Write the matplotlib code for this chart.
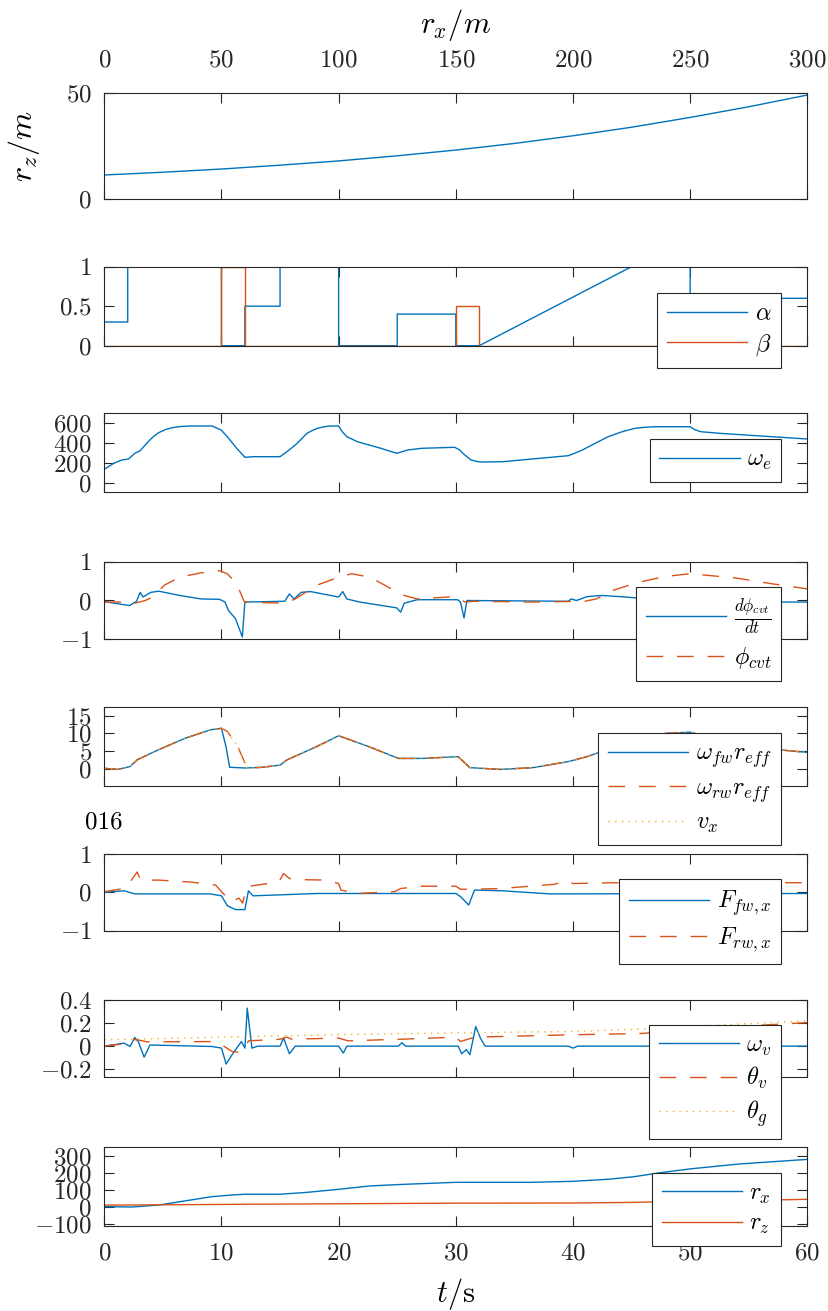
import matplotlib
matplotlib.use("Agg")
import matplotlib.pyplot as plt

# ── Style ─────────────────────────────────────────────────────────────────────
plt.rcParams.update({
    "font.family": "serif",
    "font.serif": ["cmr10", "DejaVu Serif"],
    "mathtext.fontset": "cm",
    "axes.linewidth": 0.8,
    "axes.edgecolor": "#262626",
    "xtick.direction": "in",
    "ytick.direction": "in",
    "xtick.color": "#262626",
    "ytick.color": "#262626",
    "xtick.major.size": 7,
    "ytick.major.size": 7,
    "xtick.major.width": 0.8,
    "ytick.major.width": 0.8,
})

BLUE = "#0072BD"
ORANGE = "#D95319"
YELLOW = "#EDB120"
DASH = (0, (12, 10))
DOT = (0, (1, 3.8))

# ── Data ──────────────────────────────────────────────────────────────────────
# road profile r_z over r_x
PATH_RX = [0, 25, 50, 75, 100, 125, 150, 175, 200, 225, 250, 275, 300]
PATH_RZ = [11.4, 12.7, 14.2, 16.0, 18.0, 20.4, 23.1, 26.2, 29.8, 33.8, 38.4, 43.4, 48.9]

# control inputs alpha / beta
ALPHA_T = [0, 2, 2, 10, 10, 12, 12, 15, 15, 20, 20, 25, 25, 30, 30, 32, 45, 50, 50, 60]
ALPHA = [0.3, 0.3, 1, 1, 0, 0, 0.5, 0.5, 1, 1, 0, 0, 0.4, 0.4, 0, 0, 1, 1, 0.6, 0.6]
BETA_T = [0, 10, 10, 12, 12, 30, 30, 32, 32, 60]
BETA = [0, 0, 1, 1, 0, 0, 0.5, 0.5, 0, 0]

# engine speed
WE_T = [0, 0.8, 1.5, 2.07, 2.6, 3.06, 3.74, 4.2, 4.64, 5.2, 5.78, 6.5, 7.35, 9.2, 9.97,
        10.5, 11.3, 12.0, 12.7, 15.0, 15.7, 16.4, 17.3, 17.8, 18.2, 18.8, 19.3, 20.0,
        20.3, 20.7, 21.6, 23.6, 24.96, 25.9, 27.1, 29.9, 30.3, 30.6, 31.3, 31.8, 32.2,
        34.0, 39.6, 40.2, 40.8, 42.0, 43.0, 44.2, 45.3, 46.2, 47.1, 50.0, 50.4, 50.9,
        52.5, 60]
WE = [134, 194, 227, 237, 294, 320, 410, 462, 500, 530, 550, 562, 567, 567, 527,
      460, 344, 254, 260, 260, 320, 387, 494, 525, 544, 560, 567, 567,
      510, 460, 410, 344, 294, 327, 344, 354, 330, 294, 227, 212, 207,
      210, 270, 297, 327, 400, 460, 510, 544, 555, 560, 560, 530, 510,
      494, 437]

# CVT ratio rate and ratio
DPHI_T = [0, 2.16, 2.75, 3.06, 3.3, 3.97, 4.64, 6.45, 8.25, 9.84, 10.3, 10.6, 11.2,
          11.78, 12.0, 15.4, 15.8, 16.2, 16.8, 17.6, 20.0, 20.35, 20.7, 21.8, 24.96,
          25.3, 25.6, 26.7, 30.15, 30.4, 30.7, 30.95, 39.6, 39.85, 40.3, 41.2, 42.5,
          44.5, 47, 50, 55, 60]
DPHI = [-0.03, -0.13, -0.02, 0.21, 0.09, 0.21, 0.24, 0.13, 0.04, 0.03, -0.04, -0.26, -0.47,
        -0.94, -0.04, -0.02, 0.17, 0.04, 0.21, 0.23, 0.09, 0.23, 0.04, -0.04, -0.19,
        -0.30, -0.07, 0.02, 0.02, -0.04, -0.45, 0.0, -0.02, 0.04, 0.0, 0.1, 0.13,
        0.09, 0.02, -0.02, -0.04, -0.04]
PHI_T = [0, 1.9, 2.6, 3.5, 4.2, 5.1, 6.4, 8.2, 9.8, 10.5, 11.3, 11.9, 12.0, 15.4,
         16.3, 18.1, 20.0, 21.1, 22.7, 24.5, 25.6, 26.7, 29.9, 30.8, 31.5, 36.5,
         41.0, 42.0, 43.4, 45.6, 47.9, 50.0, 53.9, 57.0, 60]
PHI = [-0.04, -0.04, -0.07, 0.0, 0.1, 0.39, 0.6, 0.71, 0.77, 0.69, 0.43, 0.0, -0.04, -0.07,
       0.04, 0.39, 0.6, 0.69, 0.6, 0.3, 0.13, 0.04, 0.1, -0.04, -0.02, -0.04,
       -0.02, 0.04, 0.26, 0.47, 0.62, 0.69, 0.58, 0.43, 0.3]

# wheel speeds and vehicle speed
WF_T = [0, 1.15, 2.2, 2.8, 4.6, 6.9, 9.1, 10.0, 10.4, 10.7, 12.0, 13.5, 15.0, 15.6,
        18.1, 20.0, 22.6, 25.1, 27.1, 30.2, 31.2, 33.8, 36.6, 39.6, 41.2, 43.0,
        45.5, 48.0, 50.0, 52.0, 55.0, 57.7, 60]
WF = [0.1, -0.2, 0.6, 2.5, 5.3, 8.6, 11.0, 11.4, 6.0, 0.4, 0.2, 0.4, 1.0, 2.5,
      6.2, 9.3, 6.2, 2.9, 2.9, 3.4, 0.3, -0.2, 0.3, 2.0, 3.4, 5.5,
      8.5, 10.0, 10.3, 8.5, 7.0, 5.3, 4.6]
WR_T = [0, 1.15, 2.2, 2.8, 4.6, 6.9, 9.1, 10.0, 10.5, 11.4, 12.2, 13.5, 15.0, 15.6,
        18.1, 20.0, 22.6, 25.1, 27.1, 30.2, 31.2, 33.8, 36.6, 39.6, 41.2, 43.0,
        45.5, 48.0, 50.0, 52.0, 55.0, 57.7, 60]
WR = [0.1, -0.2, 0.6, 2.5, 5.3, 8.6, 11.0, 11.4, 10.5, 6.2, 0.1, 0.4, 1.0, 2.5,
      6.2, 9.3, 6.2, 2.9, 2.9, 3.4, 0.3, -0.2, 0.3, 2.0, 3.4, 5.5,
      8.5, 10.0, 10.3, 8.5, 7.0, 5.3, 4.6]
VX_T = WR_T
VX = WR

# longitudinal wheel forces
FF_T = [0, 1.7, 2.6, 9.0, 10.0, 10.5, 11.2, 12.0, 12.3, 12.7, 14.6, 18.1, 30.0, 30.4,
        31.1, 31.6, 34.0, 38.0, 60]
FF = [0.0, 0.04, -0.04, -0.04, -0.09, -0.35, -0.45, -0.45, 0.04, -0.09, -0.07, -0.03,
      -0.03, -0.11, -0.33, 0.06, 0.04, -0.04, -0.03]
FR_T = [0, 1.7, 2.2, 2.8, 3.1, 4.6, 7.3, 9.5, 10.0, 10.8, 11.5, 11.8, 12.2, 13.5,
        14.9, 15.3, 15.8, 17.1, 18.9, 20.0, 20.2, 21.6, 24.8, 25.3, 27.0, 30.0,
        30.4, 31.2, 33.9, 38.4, 39.6, 40.0, 43.4, 50, 60]
FR = [0.02, 0.1, 0.27, 0.53, 0.32, 0.32, 0.27, 0.19, 0.02, -0.24, -0.15, -0.28, 0.15, 0.21,
      0.27, 0.49, 0.36, 0.33, 0.32, 0.23, 0.06, -0.03, 0.02, 0.1, 0.16, 0.16,
      0.08, 0.08, 0.1, 0.21, 0.3, 0.23, 0.25, 0.26, 0.25]

# pitch rate, pitch angle, road grade
WV_T = [0, 1.7, 2.2, 2.6, 2.9, 3.4, 3.9, 9.2, 10.0, 10.4, 10.9, 11.7, 12.0, 12.2,
        12.6, 13.1, 15.0, 15.3, 15.8, 16.3, 20.0, 20.4, 20.7, 25.1, 25.4, 25.7,
        30.2, 30.5, 30.9, 31.2, 31.7, 32.1, 32.5, 39.6, 40.0, 40.4, 60]
WV = [0.0, 0.026, -0.003, 0.075, 0.04, -0.095, 0.01, -0.003, -0.017, -0.155, -0.075, 0.04, -0.017, 0.33,
      -0.017, 0.0, 0.0, 0.07, -0.066, 0.0, 0.0, -0.06, 0.0, 0.0, 0.03, 0.0,
      0.0, -0.066, -0.03, -0.075, 0.17, 0.07, 0.0, 0.0, -0.017, 0.0, 0.0]
TV_T = [0, 1.7, 2.2, 2.8, 3.7, 9.5, 10.2, 10.9, 11.6, 12.0, 12.3, 15.0, 15.6, 16.0,
        20.0, 20.8, 25.3, 30.0, 30.4, 31.6, 39.7, 45.9, 50, 54.0, 60]
TV = [0.0, 0.02, 0.06, 0.055, 0.037, 0.04, 0.0, -0.046, -0.055, -0.02, 0.046, 0.06, 0.078, 0.06,
      0.07, 0.046, 0.06, 0.078, 0.04, 0.078, 0.098, 0.11, 0.14, 0.17, 0.204]
TG_T = [0, 10, 20, 30, 40, 45, 50, 55, 60]
TG = [0.055, 0.078, 0.10, 0.115, 0.127, 0.145, 0.17, 0.195, 0.22]

# position
RX_T = [0, 2.4, 4.7, 7.0, 9.2, 11.0, 12.0, 15.0, 17.3, 20.0, 22.7, 25.5, 30.0, 36.5,
        40.0, 43.0, 45.2, 47.5, 50.0, 54.2, 60]
RX = [2, 0, 12, 37, 61, 71, 75, 75, 86, 104, 124, 133, 145, 145,
      151, 163, 178, 202, 224, 253, 280]
RZ_T = [0, 10, 12, 20, 30, 40, 45, 50, 55, 60]
RZ = [11, 15, 16, 19, 22.5, 23.5, 27, 34, 39, 45]

T_TICKS = [0, 10, 20, 30, 40, 50, 60]
RX_TICKS = [0, 50, 100, 150, 200, 250, 300]

# ── Layout (pixel boxes of the stacked panels) ────────────────────────────────
W, H = 829, 1311
X0, X1 = 104.3, 807.3
PANELS = [(92.7, 199.3), (266.7, 345.7), (413.3, 491.7), (561.7, 639.3),
          (706.7, 785.7), (854.0, 930.7), (1000.0, 1077.3), (1147.3, 1225.7)]
LEGEND_TOPS = [None, 293.3, 439.3, 587.0, 733.3, 879.0, 1025.0, 1172.7]
LEGEND_RIGHT = 781.0

YTICK_FS = 18
XTICK_FS = 18
LEGEND_FS = 17.5


def add_axes(fig, top, bottom):
    return fig.add_axes([X0 / W, 1 - bottom / H, (X1 - X0) / W, (bottom - top) / H])


def style_axes(ax, yticks, ylabels, ylim):
    ax.set_xlim(0, 60)
    ax.set_ylim(*ylim)
    ax.set_xticks(T_TICKS)
    ax.set_yticks(yticks)
    ax.set_yticklabels(ylabels, fontsize=YTICK_FS)
    ax.tick_params(axis="both", top=True, right=True, labelbottom=False)
    ax.tick_params(axis="y", pad=9)


def add_legend(ax, fig, idx):
    leg = ax.legend(
        loc="upper right",
        bbox_to_anchor=(LEGEND_RIGHT / W, 1 - LEGEND_TOPS[idx] / H),
        bbox_transform=fig.transFigure,
        borderaxespad=0,
        fontsize=LEGEND_FS,
        handlelength=3.3,
        handletextpad=0.3,
        labelspacing=0.3,
        borderpad=0.4,
        fancybox=False,
        framealpha=1,
        edgecolor="#262626",
    )
    leg.get_frame().set_linewidth(0.8)
    return leg


def make_figure():
    fig = plt.figure(figsize=(W / 100, H / 100), dpi=100, facecolor="white")
    axes = [add_axes(fig, t, b) for t, b in PANELS]

    # 1: road profile on the r_x axis
    ax = axes[0]
    ax.plot(PATH_RX, PATH_RZ, color=BLUE, lw=1.0)
    ax.set_xlim(0, 300)
    ax.set_ylim(0, 50)
    ax.set_xticks(RX_TICKS)
    ax.set_xticklabels([f"${v}$" for v in RX_TICKS], fontsize=XTICK_FS)
    ax.set_yticks([0, 50])
    ax.set_yticklabels(["$0$", "$50$"], fontsize=YTICK_FS)
    ax.tick_params(axis="x", top=True, bottom=True, labeltop=True, labelbottom=False, pad=15)
    ax.tick_params(axis="y", right=True, pad=9)
    ax.xaxis.set_label_position("top")
    ax.set_xlabel("$r_x/m$", fontsize=22, labelpad=12)
    ax.set_ylabel("$r_z/m$", fontsize=23)
    ax.yaxis.set_label_coords(-0.088, 0.5)

    # 2: alpha / beta
    ax = axes[1]
    ax.plot(ALPHA_T, ALPHA, color=BLUE, lw=1.0, label=r"$\alpha$")
    ax.plot(BETA_T, BETA, color=ORANGE, lw=1.0, label=r"$\beta$")
    style_axes(ax, [0, 0.5, 1], ["$0$", "$0.5$", "$1$"], (0, 1))
    add_legend(ax, fig, 1)

    # 3: engine speed
    ax = axes[2]
    ax.plot(WE_T, WE, color=BLUE, lw=1.0, label=r"$\omega_e$")
    style_axes(ax, [0, 200, 400, 600], ["$0$", "$200$", "$400$", "$600$"], (-90, 694))
    add_legend(ax, fig, 2)

    # 4: CVT ratio
    ax = axes[3]
    ax.plot(DPHI_T, DPHI, color=BLUE, lw=1.0, label=r"$\frac{d\phi_{cvt}}{dt}$")
    ax.plot(PHI_T, PHI, color=ORANGE, lw=1.0, linestyle=DASH, label=r"$\phi_{cvt}$")
    style_axes(ax, [-1, 0, 1], ["$-1$", "$0$", "$1$"], (-1, 1))
    add_legend(ax, fig, 3)

    # 5: wheel and vehicle speeds
    ax = axes[4]
    ax.plot(WF_T, WF, color=BLUE, lw=1.0, label=r"$\omega_{fw}r_{eff}$")
    ax.plot(WR_T, WR, color=ORANGE, lw=1.0, linestyle=DASH, label=r"$\omega_{rw}r_{eff}$")
    ax.plot(VX_T, VX, color=YELLOW, lw=1.0, linestyle=DOT, label=r"$v_x$")
    style_axes(ax, [0, 5, 10, 15], ["$0$", "$5$", "$10$", "$15$"], (-4.8, 17.5))
    add_legend(ax, fig, 4)

    # 6: wheel forces
    ax = axes[5]
    ax.plot(FF_T, FF, color=BLUE, lw=1.0, label=r"$F_{fw,x}$")
    ax.plot(FR_T, FR, color=ORANGE, lw=1.0, linestyle=DASH, label=r"$F_{rw,x}$")
    style_axes(ax, [-1, 0, 1], ["$-1$", "$0$", "$1$"], (-1, 1))
    add_legend(ax, fig, 5)

    # 7: pitch
    ax = axes[6]
    ax.plot(WV_T, WV, color=BLUE, lw=1.0, label=r"$\omega_v$")
    ax.plot(TV_T, TV, color=ORANGE, lw=1.0, linestyle=DASH, label=r"$\theta_v$")
    ax.plot(TG_T, TG, color=YELLOW, lw=1.0, linestyle=DOT, label=r"$\theta_g$")
    style_axes(ax, [-0.2, 0, 0.2, 0.4], ["$-0.2$", "$0$", "$0.2$", "$0.4$"], (-0.27, 0.4))
    add_legend(ax, fig, 6)

    # 8: position
    ax = axes[7]
    ax.plot(RX_T, RX, color=BLUE, lw=1.0, label=r"$r_x$")
    ax.plot(RZ_T, RZ, color=ORANGE, lw=1.0, label=r"$r_z$")
    style_axes(ax, [-100, 0, 100, 200, 300],
               ["$-100$", "$0$", "$100$", "$200$", "$300$"], (-110, 351))
    ax.tick_params(axis="x", labelbottom=True, pad=12)
    ax.set_xticklabels([f"${v}$" for v in T_TICKS], fontsize=XTICK_FS)
    ax.set_xlabel(r"$t/\mathrm{s}$", fontsize=22, labelpad=8)
    add_legend(ax, fig, 7)

    fig.text(85 / W, 1 - 822 / H, "016", fontsize=18, ha="left", va="center")
    return fig


def main():
    fig = make_figure()
    fig.savefig("out.png", dpi=100)
    plt.close(fig)


if __name__ == "__main__":
    main()
